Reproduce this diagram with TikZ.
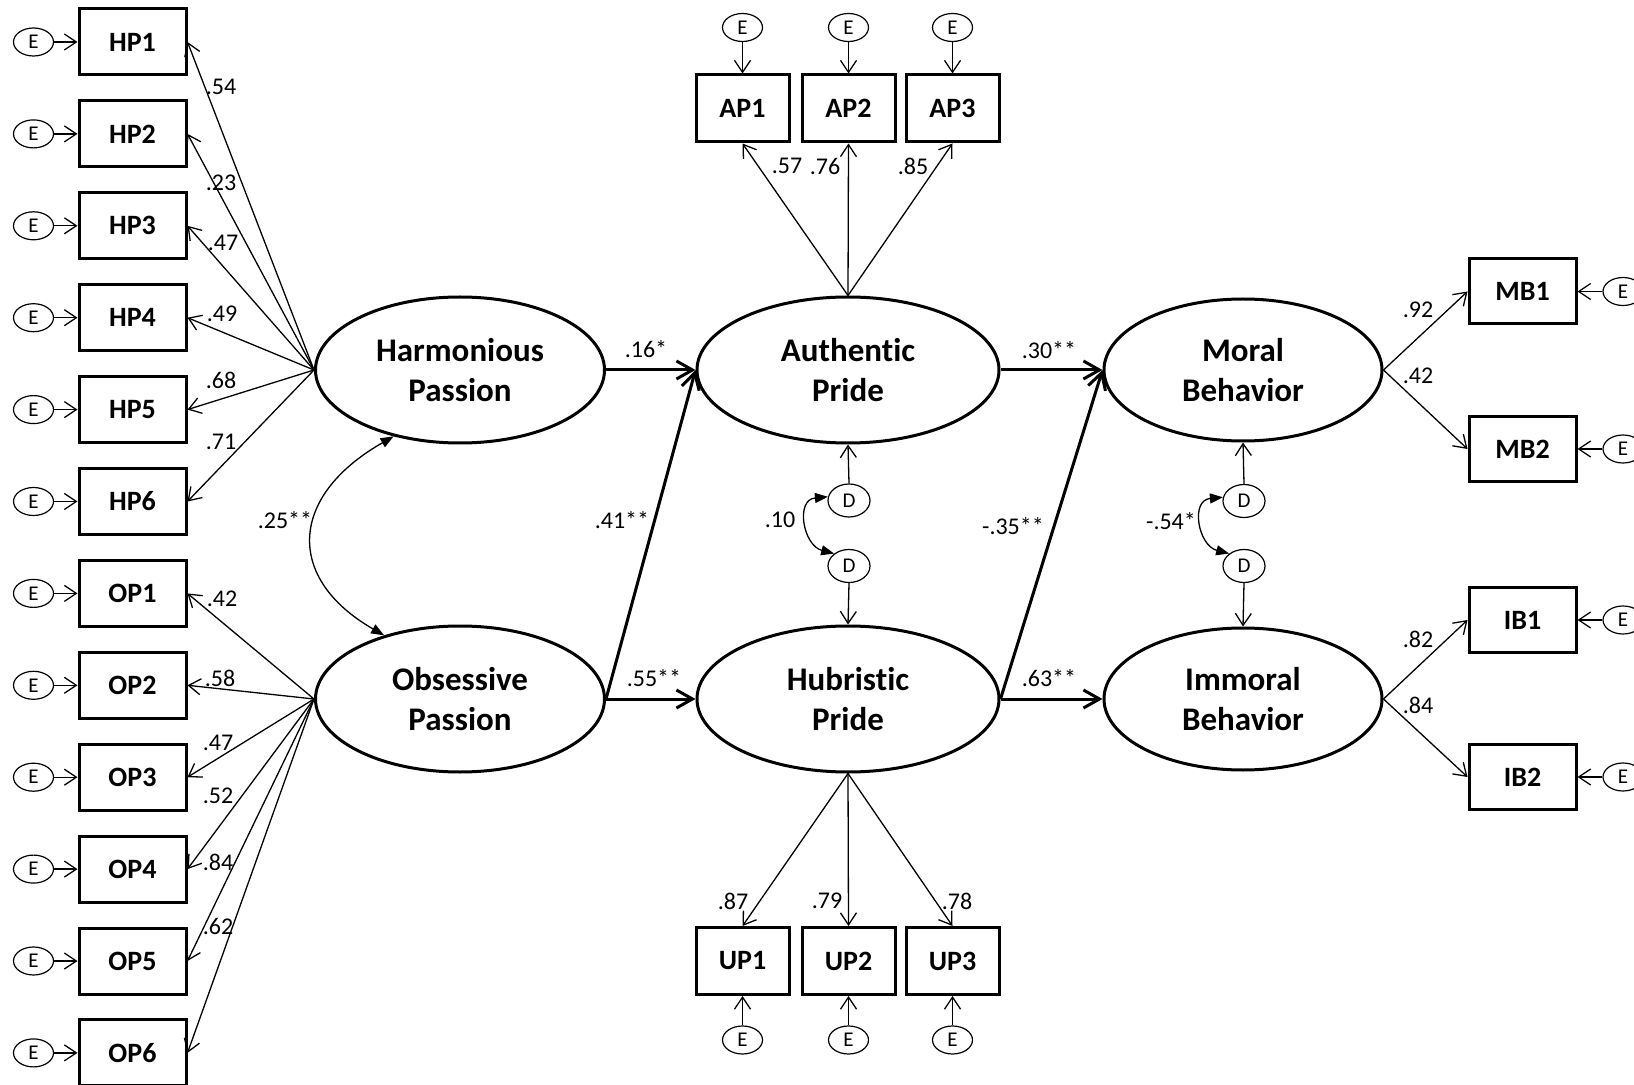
\documentclass[tikz,border=0pt]{standalone}
\usepackage{fontspec}
\setmainfont{Carlito}[Ligatures={NoCommon,NoRare}]
\usetikzlibrary{shapes.geometric,arrows.meta}
\begin{document}
\begin{tikzpicture}[x=0.5pt,y=-0.5pt,
 obs/.style={draw,line width=1.5pt,minimum width=53.5pt,minimum height=33pt,inner sep=0pt,font=\fontsize{14}{16}\selectfont\bfseries},
 obsS/.style={obs,minimum width=46.5pt,minimum height=33.5pt},
 obsR/.style={obs,minimum width=53.5pt,minimum height=32.5pt},
 lat/.style={draw,ellipse,line width=1.5pt,minimum width=144.5pt,minimum height=73pt,inner sep=0pt,align=center,font=\fontsize{16.5}{20}\selectfont\bfseries},
 err/.style={draw,ellipse,line width=0.6pt,minimum width=20pt,minimum height=14pt,inner sep=0pt,font=\fontsize{10.5}{12}\selectfont},
 dist/.style={err,minimum width=21pt,minimum height=16.5pt},
 ldarr/.style={line width=0.65pt,-{Straight Barb[length=6pt,width=8pt]}},
 strarr/.style={line width=1.5pt,-{Straight Barb[length=8pt,width=9pt]}},
 cov/.style={line width=0.65pt,{Triangle[length=6.5pt,width=5pt]}-{Triangle[length=6.5pt,width=5pt]}},
 lab/.style={font=\fontsize{12}{14}\selectfont,inner sep=0pt},
]
\useasboundingbox (0,0) rectangle (1634,1085);

% left indicators
\foreach \i/\y in {1/42,2/133.9,3/225.8,4/317.7,5/409.6,6/501.5}{
  \node[obs] (HP\i) at (132.5,\y) {HP\i};
  \node[err] (EH\i) at (33.5,\y) {E};
}
\foreach \i/\y in {1/593.4,2/685.3,3/777.2,4/869.1,5/961,6/1052.9}{
  \node[obs] (OP\i) at (132.5,\y) {OP\i};
  \node[err] (EO\i) at (33.5,\y) {E};
}

% latent variables
\node[lat] (HPa) at (460,370) {Harmonious\\Passion};
\node[lat] (OPa) at (460,699) {Obsessive\\Passion};
\node[lat,minimum width=151pt] (AP) at (848,370) {Authentic\\Pride};
\node[lat,minimum width=151pt] (HuP) at (848,699) {Hubristic\\Pride};
\node[lat,minimum width=139pt,minimum height=71pt] (MB) at (1243,370) {Moral\\Behavior};
\node[lat,minimum width=139pt,minimum height=71pt] (IB) at (1243,699) {Immoral\\Behavior};

% AP and UP indicators
\foreach \i/\x in {1/742.5,2/848.5,3/952.5}{
  \node[obsS] (AP\i) at (\x,108.5) {AP\i};
  \node[err] (EA\i) at (\x,27.5) {E};
  \node[obsS] (UP\i) at (\x,961) {UP\i};
  \node[err] (EU\i) at (\x,1040) {E};
}

% MB and IB indicators
\node[obsR] (MB1) at (1522.5,291.5) {MB1};
\node[obsR] (MB2) at (1522.5,449) {MB2};
\node[obsR] (IB1) at (1522.5,620) {IB1};
\node[obsR] (IB2) at (1522.5,777) {IB2};
\node[err] (EM1) at (1623,291.5) {E};
\node[err] (EM2) at (1623,449) {E};
\node[err] (EI1) at (1623,620) {E};
\node[err] (EI2) at (1623,777) {E};

% disturbances
\node[dist] (D1) at (849,500.5) {D};
\node[dist] (D2) at (849,566) {D};
\node[dist] (D3) at (1244,501) {D};
\node[dist] (D4) at (1244,566) {D};

% error arrows and loadings
\foreach \i in {1,...,6}{
  \draw[ldarr] (EH\i) -- (HP\i);
  \draw[ldarr] (EO\i) -- (OP\i);
  \draw[ldarr] (HPa.west) -- (HP\i.east);
  \draw[ldarr] (OPa.west) -- (OP\i.east);
}
\foreach \i in {1,2,3}{
  \draw[ldarr] (EA\i.south) -- (AP\i.north);
  \draw[ldarr] (EU\i.north) -- (UP\i.south);
  \draw[ldarr] (AP.north) -- (AP\i.south);
  \draw[ldarr] (HuP.south) -- (UP\i.north);
}
\draw[ldarr] (EM1) -- (MB1);
\draw[ldarr] (EM2) -- (MB2);
\draw[ldarr] (EI1) -- (IB1);
\draw[ldarr] (EI2) -- (IB2);
\draw[ldarr] (MB.east) -- (MB1.west);
\draw[ldarr] (MB.east) -- (MB2.west);
\draw[ldarr] (IB.east) -- (IB1.west);
\draw[ldarr] (IB.east) -- (IB2.west);

\draw[ldarr] (D1.north) -- (AP.south);
\draw[ldarr] (D2.south) -- (HuP.north);
\draw[ldarr] (D3.north) -- (MB.south);
\draw[ldarr] (D4.south) -- (IB.north);

% structural paths
\draw[strarr] (HPa.east) -- (AP.west);
\draw[strarr] (OPa.east) -- (AP.west);
\draw[strarr] (OPa.east) -- (HuP.west);
\draw[strarr] (AP.east) -- (MB.west);
\draw[strarr] (HuP.east) -- (MB.west);
\draw[strarr] (HuP.east) -- (IB.west);

% covariances
\draw[cov] (HPa.225) .. controls +(-105,60) and +(-99,-57) .. (OPa.140);
\draw[cov] (D1.170) .. controls +(-33,3) and +(-31,-8) .. (D2.140);
\draw[cov] (D3.170) .. controls +(-33,3) and +(-31,-8) .. (D4.140);

% labels
\node[lab] (l1) at (221,87) {.54};
\node[lab] (l2) at (221,183) {.23};
\node[lab] (l3) at (223,243) {.47};
\node[lab] (l4) at (222,314) {.49};
\node[lab] (l5) at (221,380) {.68};
\node[lab] (l6) at (221,442) {.71};
\node[lab] (l7) at (222,599) {.42};
\node[lab] (l8) at (220,678) {.58};
\node[lab] (l9) at (218,743) {.47};
\node[lab] (l10) at (218,796) {.52};
\node[lab] (l11) at (218,862) {.84};
\node[lab] (l12) at (218,926) {.62};
\node[lab] (l13) at (787,166) {.57};
\node[lab] (l14) at (825,166) {.76};
\node[lab] (l15) at (913,166) {.85};
\node[lab] (l16) at (733,901) {.87};
\node[lab] (l17) at (827,901) {.79};
\node[lab] (l18) at (957,901) {.78};
\node[lab] (l19) at (646,349) {.16*};
\node[lab] (l20) at (622,520) {.41**};
\node[lab] (l21) at (654,678) {.55**};
\node[lab] (l22) at (1049,350) {.30**};
\node[lab] (l23) at (1013,526) {-.35**};
\node[lab] (l24) at (1049,678) {.63**};
\node[lab] (l25) at (285,520) {.25**};
\node[lab] (l26) at (780,520) {.10};
\node[lab] (l27) at (1171,521) {-.54*};
\node[lab] (l28) at (1418,310) {.92};
\node[lab] (l29) at (1418,376) {.42};
\node[lab] (l30) at (1418,639) {.82};
\node[lab] (l31) at (1418,705) {.84};
\end{tikzpicture}
\end{document}
